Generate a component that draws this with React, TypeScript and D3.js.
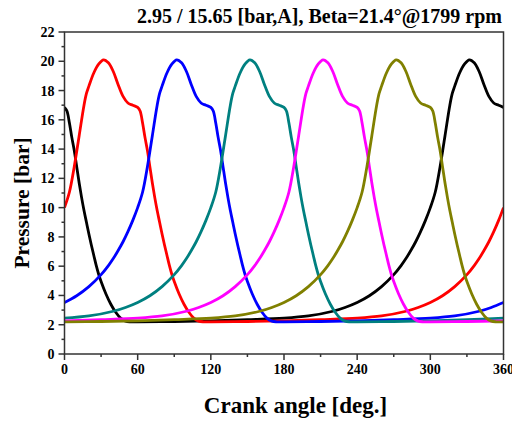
import * as d3 from "d3";

const mainWidth = 512;
const mainHeight = 421;
const margin = { top: 32, right: 8.5, bottom: 67, left: 64.5 };

const title = "2.95 / 15.65 [bar,A], Beta=21.4°@1799 rpm";
const xLabel = "Crank angle [deg.]";
const yLabel = "Pressure [bar]";

// pressure trace of one cylinder
const traceAngle = [
  0, 4, 8, 12, 16, 18, 20, 24, 28, 32, 36, 40, 44, 48, 52, 56, 60, 62, 64, 66,
  68, 70, 72, 74, 76, 78, 80, 82, 84, 86, 88, 90, 94, 98, 102, 106, 110, 114,
  120, 150, 180, 210, 240, 260, 280, 290, 300, 310, 320, 330, 336, 340, 344,
  348, 352, 356,
];
const tracePressure = [
  10.0, 11.05, 12.8, 14.9, 17.0, 17.8, 18.3, 19.2, 19.8, 20.1, 19.9, 19.3, 18.4,
  17.6, 17.15, 17.0, 16.85, 16.6, 15.8, 14.8, 13.9, 12.8, 11.7, 10.7, 9.8, 9.0,
  8.2, 7.45, 6.75, 6.05, 5.45, 4.95, 4.1, 3.4, 2.85, 2.45, 2.25, 2.2, 2.2, 2.22,
  2.27, 2.35, 2.45, 2.6, 2.92, 3.18, 3.52, 3.98, 4.6, 5.42, 6.04, 6.52, 7.07,
  7.67, 8.36, 9.13,
];

// six cylinders, firing 60 deg apart
const cylinderOffset = [300, 0, 60, 120, 180, 240];
const cylinderColor = ["#000000", "#ff0000", "#0000ff", "#008080", "#ff00ff", "#808000"];

const xTicks = [0, 60, 120, 180, 240, 300, 360];
const xMinorTicks = [30, 90, 150, 210, 270, 330];
const yTicks = [0, 2, 4, 6, 8, 10, 12, 14, 16, 18, 20, 22];
const yMinorTicks = [1, 3, 5, 7, 9, 11, 13, 15, 17, 19, 21];

const font = "'Liberation Serif', 'Times New Roman', serif";

const App = () => {
  const x0 = margin.left;
  const x1 = mainWidth - margin.right;
  const y0 = mainHeight - margin.bottom;
  const y1 = margin.top;

  const xScale = d3.scaleLinear().domain([0, 360]).range([x0, x1]);
  const yScale = d3.scaleLinear().domain([0, 22]).range([y0, y1]);

  const line = d3
    .line<[number, number]>()
    .x((d) => xScale(d[0]))
    .y((d) => yScale(d[1]))
    .curve(d3.curveCatmullRom.alpha(0.5));

  const series = cylinderOffset.map((offset) => {
    const pts: [number, number][] = traceAngle.map((a, i) => [
      (a + offset) % 360,
      tracePressure[i],
    ]);
    pts.sort((a, b) => a[0] - b[0]);
    pts.push([360, pts[0][1]]);
    return pts;
  });

  return (
    <svg
      width={mainWidth}
      height={mainHeight}
      style={{ position: "absolute", left: 0, top: 0, background: "#fff" }}
      fontFamily={font}
      fontWeight="bold"
    >
      <defs>
        <clipPath id="plot-clip">
          <rect x={x0} y={y1} width={x1 - x0} height={y0 - y1} />
        </clipPath>
      </defs>

      <text x={502} y={23} fontSize={20} textAnchor="end">
        {title}
      </text>

      <g clipPath="url(#plot-clip)">
        {series.map((pts, i) => (
          <path
            key={i}
            d={line(pts) ?? ""}
            fill="none"
            stroke={cylinderColor[i]}
            strokeWidth={2.8}
            strokeLinejoin="round"
          />
        ))}
      </g>

      {/* frame */}
      <rect x={x0} y={y1} width={x1 - x0} height={y0 - y1} fill="none" stroke="#333" strokeWidth={1.5} />

      {/* y-axis */}
      {yTicks.map((t) => (
        <g key={t}>
          <line x1={x0 - 6} x2={x0} y1={yScale(t)} y2={yScale(t)} stroke="#333" strokeWidth={1.5} />
          <text x={x0 - 10} y={yScale(t) + 5} fontSize={14} textAnchor="end">
            {t}
          </text>
        </g>
      ))}
      {yMinorTicks.map((t) => (
        <line key={t} x1={x0 - 3} x2={x0} y1={yScale(t)} y2={yScale(t)} stroke="#333" strokeWidth={1.5} />
      ))}

      {/* x-axis */}
      {xTicks.map((t) => (
        <g key={t}>
          <line x1={xScale(t)} x2={xScale(t)} y1={y0} y2={y0 + 6} stroke="#333" strokeWidth={1.5} />
          <text x={xScale(t)} y={y0 + 20} fontSize={14} textAnchor="middle">
            {t}
          </text>
        </g>
      ))}
      {xMinorTicks.map((t) => (
        <line key={t} x1={xScale(t)} x2={xScale(t)} y1={y0} y2={y0 + 3} stroke="#333" strokeWidth={1.5} />
      ))}

      <text x={295.5} y={413} fontSize={23} textAnchor="middle">
        {xLabel}
      </text>
      <text
        transform={`translate(29, ${(y0 + y1) / 2 + 10}) rotate(-90)`}
        fontSize={21.5}
        textAnchor="middle"
      >
        {yLabel}
      </text>
    </svg>
  );
};

export default App;
